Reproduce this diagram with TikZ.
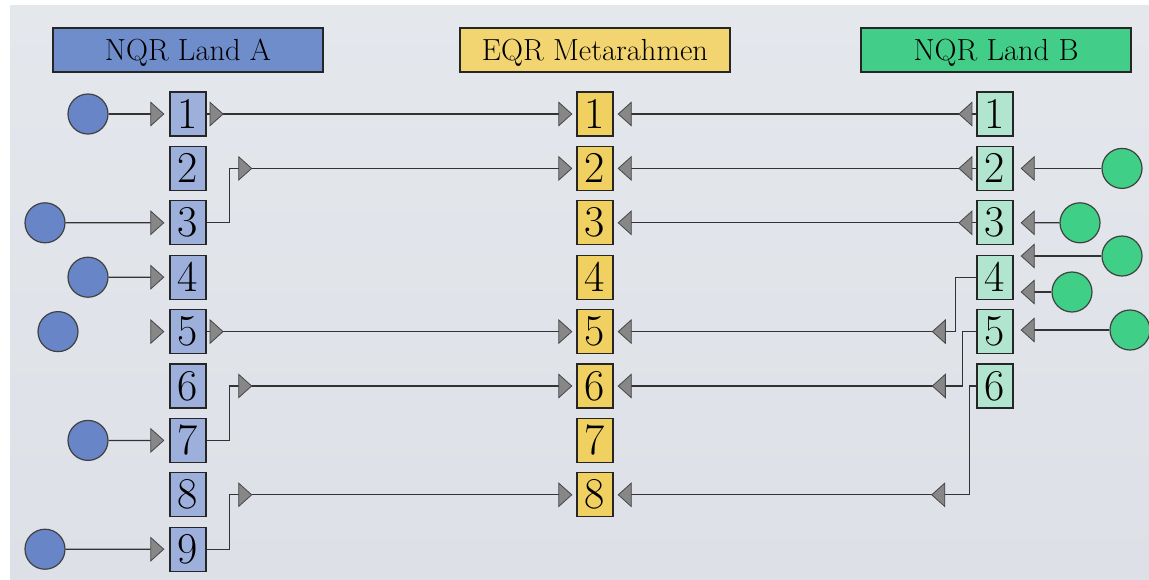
\documentclass[tikz,border=0pt]{standalone}
\usepackage{tikz}
\usetikzlibrary{arrows.meta,decorations.markings}

\definecolor{bluehd}{RGB}{111,141,203}
\definecolor{bluebx}{RGB}{156,176,219}
\definecolor{bluecr}{RGB}{104,134,199}
\definecolor{yelhd}{RGB}{242,213,112}
\definecolor{yelbx}{RGB}{241,208,98}
\definecolor{grnhd}{RGB}{66,206,136}
\definecolor{grnbx}{RGB}{178,229,207}
\definecolor{grncr}{RGB}{64,207,134}
\definecolor{tipgray}{RGB}{135,135,135}
\definecolor{tipdark}{RGB}{70,70,70}
\definecolor{bgtop}{RGB}{228,231,236}
\definecolor{bgmid}{RGB}{238,240,244}
\definecolor{bgbot}{RGB}{221,224,230}

\tikzset{
  fl/.tip={Triangle[length=14pt,width=25pt,fill=tipgray,color=tipdark,line width=0.8pt]},
}

\begin{document}
\begin{tikzpicture}[x=1pt, y=-1pt,
    hd/.style={draw=black!85, line width=1.3pt, minimum width=270pt, minimum height=44pt, inner sep=0pt, text depth=0pt, font=\fontsize{30.5}{33}\selectfont},
    nr/.style={draw=black!85, line width=1.3pt, minimum width=36pt, minimum height=44pt, inner sep=0pt, font=\fontsize{44}{44}\selectfont},
    cr/.style={circle, draw=black!75, line width=1.2pt, minimum size=40pt, inner sep=0pt},
    pf/.style={draw=black!80, line width=1.2pt, -fl, shorten >=#1},
    pf/.default=4pt,
    mid/.style={postaction={decorate}, decoration={markings, mark=at position #1 with {\arrow{fl}}}}]

    \useasboundingbox (0,0) rectangle (1149,579);
    \shade[top color=bgtop, middle color=bgmid, bottom color=bgbot] (10,5) rectangle (1149,579);

    % Kopfzeilen
    \node[hd, fill=bluehd] (hA) at (188,50) {NQR Land A};
    \node[hd, fill=yelhd] (hE) at (595,50) {EQR Metarahmen};
    \node[hd, fill=grnhd] (hB) at (996,50) {NQR Land B};

    % Niveaus
    \foreach \i in {1,...,9}
        \node[nr, fill=bluebx] (a\i) at (188,{114+54.4*(\i-1)}) {\i};
    \foreach \i in {1,...,8}
        \node[nr, fill=yelbx] (e\i) at (595,{114+54.4*(\i-1)}) {\i};
    \foreach \i in {1,...,6}
        \node[nr, fill=grnbx] (b\i) at (995,{114+54.4*(\i-1)}) {\i};

    % Qualifikationen Land A
    \node[cr, fill=bluecr] (ca1) at (88,114) {};
    \node[cr, fill=bluecr] (ca3) at (45,222.8) {};
    \node[cr, fill=bluecr] (ca4) at (88,277.2) {};
    \node[cr, fill=bluecr] (ca5) at (58,331.6) {};
    \node[cr, fill=bluecr] (ca7) at (88,440.4) {};
    \node[cr, fill=bluecr] (ca9) at (45,549.2) {};
    \coordinate (p5) at (150.8,331.6);

    \draw[pf=5pt] (ca1) -- (a1);
    \draw[pf=5pt] (ca3) -- (a3);
    \draw[pf=5pt] (ca4) -- (a4);
    \draw[pf=5pt] (p5) -- (a5);
    \draw[pf=5pt] (ca7) -- (a7);
    \draw[pf=5pt] (ca9) -- (a9);

    % Qualifikationen Land B
    \node[cr, fill=grncr] (cb2) at (1122,168.4) {};
    \node[cr, fill=grncr] (cb3) at (1080,222.8) {};
    \node[cr, fill=grncr] (cb4) at (1122,256) {};
    \node[cr, fill=grncr] (cb4x) at (1072,292) {};
    \node[cr, fill=grncr] (cb5) at (1130,330) {};

    \draw[pf=7pt] (cb2) -- (b2);
    \draw[pf=7pt] (cb3) -- (b3);
    \draw[pf=7pt] (cb4) -- (cb4 -| b4.east);
    \draw[pf=7pt] (cb4x) -- (cb4x -| b4.east);
    \draw[pf=7pt] (cb5) -- (cb5 -| b5.east);

    % A -> EQR
    \draw[pf, mid=17pt] (a1) -- (e1);
    \draw[pf, mid=100pt] (a3.east) -- ++(23,0) |- (e2.west);
    \draw[pf, mid=17pt] (a5) -- (e5);
    \draw[pf, mid=100pt] (a7.east) -- ++(23,0) |- (e6.west);
    \draw[pf, mid=100pt] (a9.east) -- ++(23,0) |- (e8.west);

    % B -> EQR
    \draw[pf, mid=18pt] (b1) -- (e1);
    \draw[pf, mid=18pt] (b2) -- (e2);
    \draw[pf, mid=18pt] (b3) -- (e3);
    \draw[pf, mid=99pt] (b4.west) -- ++(-21,0) |- (e5.east);
    \draw[pf, mid=99pt] (b5.west) -- ++(-14,0) |- (e6.east);
    \draw[pf, mid=154pt] (b6.west) -- ++(-7,0) |- (e8.east);
\end{tikzpicture}
\end{document}
